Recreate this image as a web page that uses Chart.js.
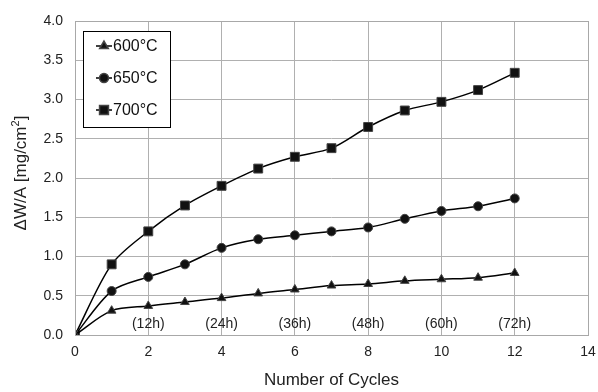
<!DOCTYPE html>
<html>
<head>
<meta charset="utf-8">
<script src="https://cdn.jsdelivr.net/npm/chart.js@4/dist/chart.umd.min.js"></script>
<style>
  html, body { margin: 0; padding: 0; background: #fff; }
  #wrap { width: 598px; height: 392px; }
</style>
</head>
<body>
<div id="wrap"><canvas id="myChart"></canvas></div>
<script>
// Mass gain per area vs. number of cycles
const cycles = [0, 1, 2, 3, 4, 5, 6, 7, 8, 9, 10, 11, 12];
const gain600 = [0, 0.31, 0.37, 0.42, 0.47, 0.53, 0.58, 0.63, 0.65, 0.69, 0.71, 0.73, 0.79];
const gain650 = [0, 0.56, 0.74, 0.90, 1.11, 1.22, 1.27, 1.32, 1.37, 1.48, 1.58, 1.64, 1.74];
const gain700 = [0, 0.90, 1.32, 1.65, 1.90, 2.12, 2.27, 2.38, 2.65, 2.86, 2.97, 3.12, 3.34];

// hour labels shown inside the plot
const hourCycles = [2, 4, 6, 8, 10, 12];
const hourLabels = ['(12h)', '(24h)', '(36h)', '(48h)', '(60h)', '(72h)'];
const hourLabelY = 0.14;

const legendItems = [
    { label: '600°C', style: 'triangle' },
    { label: '650°C', style: 'circle' },
    { label: '700°C', style: 'rect' }
];

// marker radius per point style
const markerSize = { triangle: 5, circle: 4.5, rect: 6.3 };

const FONT = '"Liberation Sans", Arial, sans-serif';

function toPoints(values) {
    return cycles.map((c, i) => ({ x: c, y: values[i] }));
}

function series(label, values, style) {
    return {
        label: label,
        data: toPoints(values),
        showLine: true,
        borderColor: '#000',
        backgroundColor: '#111',
        borderWidth: 1.5,
        pointStyle: style,
        pointRadius: markerSize[style],
        pointBorderColor: '#444',
        pointBorderWidth: 1,
        tension: 0.3,
        fill: false
    };
}

// frame around the plot area, hour labels and the y axis title (with superscript)
const extras = {
    id: 'extras',
    afterDraw(chart) {
        const { ctx, chartArea: a, scales } = chart;
        ctx.save();
        ctx.strokeStyle = '#a8a8a8';
        ctx.lineWidth = 1;
        ctx.strokeRect(a.left + 0.5, a.top + 0.5, a.right - a.left, a.bottom - a.top);

        ctx.fillStyle = '#222';
        ctx.font = '14px ' + FONT;
        ctx.textAlign = 'center';
        ctx.textBaseline = 'middle';
        hourCycles.forEach((c, i) => {
            ctx.fillText(hourLabels[i], scales.x.getPixelForValue(c), scales.y.getPixelForValue(hourLabelY));
        });

        // y title: "ΔW/A [mg/cm" + superscript 2 + "]"
        const main = '17px ' + FONT, sup = '11px ' + FONT;
        const p1 = 'ΔW/A [mg/cm', p2 = '2', p3 = ']';
        ctx.font = main;
        const w1 = ctx.measureText(p1).width, w3 = ctx.measureText(p3).width;
        ctx.font = sup;
        const w2 = ctx.measureText(p2).width;
        const total = w1 + w2 + w3;
        ctx.translate(20, 173);
        ctx.rotate(-Math.PI / 2);
        ctx.textAlign = 'left';
        ctx.textBaseline = 'alphabetic';
        let x = -total / 2;
        ctx.font = main;
        ctx.fillText(p1, x, 6);
        x += w1;
        ctx.font = sup;
        ctx.fillText(p2, x, -1);
        x += w2;
        ctx.font = main;
        ctx.fillText(p3, x, 6);
        ctx.restore();
    }
};

// legend box in the upper left corner
const boxLegend = {
    id: 'boxLegend',
    afterDraw(chart) {
        const { ctx } = chart;
        const x0 = 83, y0 = 31, w = 87, h = 96;
        ctx.save();
        ctx.fillStyle = '#fff';
        ctx.fillRect(x0, y0, w, h);
        ctx.strokeStyle = '#000';
        ctx.lineWidth = 1;
        ctx.strokeRect(x0 + 0.5, y0 + 0.5, w, h);
        ctx.font = '16px ' + FONT;
        ctx.textBaseline = 'middle';
        legendItems.forEach((item, i) => {
            const y = y0 + 15 + i * 32;
            ctx.strokeStyle = '#000';
            ctx.lineWidth = 1.5;
            ctx.beginPath();
            ctx.moveTo(x0 + 13, y);
            ctx.lineTo(x0 + 29, y);
            ctx.stroke();
            ctx.fillStyle = '#111';
            ctx.strokeStyle = '#444';
            Chart.helpers.drawPoint(ctx, {
                pointStyle: item.style,
                radius: markerSize[item.style],
                rotation: 0,
                borderWidth: 1
            }, x0 + 21, y);
            ctx.fillStyle = '#111';
            ctx.fillText(item.label, x0 + 30, y + 1);
        });
        ctx.restore();
    }
};

new Chart(document.getElementById('myChart'), {
    type: 'scatter',
    data: {
        datasets: [
            series('600°C', gain600, 'triangle'),
            series('650°C', gain650, 'circle'),
            series('700°C', gain700, 'rect')
        ]
    },
    options: {
        responsive: true,
        maintainAspectRatio: false,
        animation: false,
        layout: { padding: { top: 21, right: 10, left: 0, bottom: 0 } },
        scales: {
            x: {
                type: 'linear',
                min: 0,
                max: 14,
                ticks: {
                    stepSize: 2,
                    color: '#222',
                    font: { family: FONT, size: 14 },
                    padding: 9
                },
                grid: { color: '#b0b0b0', drawTicks: false },
                border: { display: false },
                title: {
                    display: true,
                    text: 'Number of Cycles',
                    color: '#222',
                    font: { family: FONT, size: 17 },
                    padding: { top: 4, bottom: 1 }
                },
                afterFit(scale) {
                    scale.height = 57;
                    scale.paddingLeft = 0;
                    scale.paddingRight = 0;
                }
            },
            y: {
                min: 0,
                max: 4,
                ticks: {
                    stepSize: 0.5,
                    color: '#222',
                    font: { family: FONT, size: 14 },
                    padding: 12,
                    callback: v => v.toFixed(1)
                },
                grid: { color: '#b0b0b0', drawTicks: false },
                border: { display: false },
                afterFit(scale) {
                    scale.width = 75;
                    scale.paddingTop = 0;
                    scale.paddingBottom = 0;
                }
            }
        },
        plugins: {
            legend: { display: false },
            tooltip: { enabled: false }
        }
    },
    plugins: [extras, boxLegend]
});
</script>
</body>
</html>
